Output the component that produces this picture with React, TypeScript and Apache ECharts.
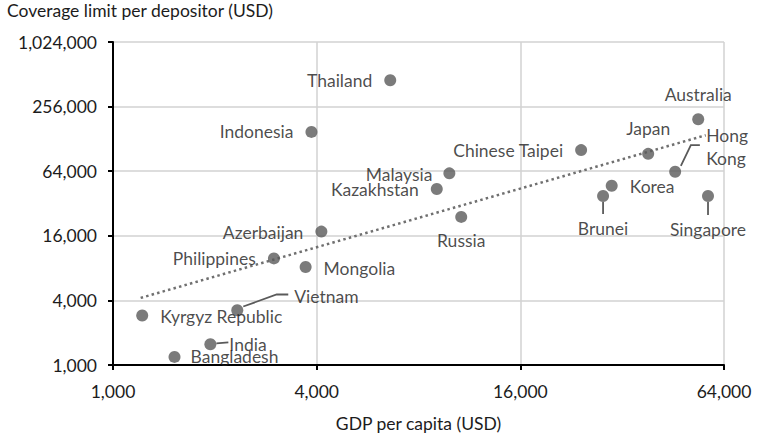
import React, { useEffect, useRef } from "react";
import * as echarts from "echarts";

const countries = [
  "Thailand", "Indonesia", "Malaysia", "Kazakhstan", "Russia", "Chinese Taipei",
  "Japan", "Australia", "Hong Kong", "Korea", "Brunei", "Singapore",
  "Azerbaijan", "Philippines", "Mongolia", "Vietnam", "Kyrgyz Republic", "India", "Bangladesh",
];
const gdpPerCapita = [
  6600, 3860, 9870, 9060, 10700, 24200,
  38200, 53700, 45900, 29800, 28100, 57400,
  4130, 2990, 3710, 2330, 1220, 1940, 1520,
];
const coverageLimit = [
  451000, 148700, 61100, 43700, 24000, 100600,
  92900, 195000, 63200, 46900, 37600, 37600,
  17500, 9850, 8190, 3240, 2890, 1560, 1190,
];
const trendX = [1207, 56500];
const trendY = [4220, 138500];
const xTickLabels = ["1,000", "4,000", "16,000", "64,000"];
const yTickLabels = ["1,000", "4,000", "16,000", "64,000", "256,000", "1,024,000"];

const UNIT = 1000;
const FONT = "Lato";
const TEXT = "#1c1c1c";
const FS = 17.5;

// label placement: [position, distance, offsetX, offsetY]
const labelPlace: Record<string, [string, number, number, number]> = {
  Thailand: ["left", 12, 0, 0],
  Indonesia: ["left", 12, 0, 0],
  Malaysia: ["left", 11, 0, 1],
  Kazakhstan: ["left", 12, 0, 1],
  Russia: ["bottom", 10, 0, 0],
  "Chinese Taipei": ["left", 12, 0, 0],
  Japan: ["top", 11, 0, 0],
  Australia: ["top", 11, 0, 0],
  "Hong Kong": ["right", 25, 0, -25],
  Korea: ["right", 12, 0, 1],
  Brunei: ["bottom", 19, 0, 0],
  Singapore: ["bottom", 20, 0, 0],
  Azerbaijan: ["left", 12, 0, 1],
  Philippines: ["left", 12, 0, 0],
  Mongolia: ["right", 12, 0, 1],
  Vietnam: ["right", 51, 0, -14],
  "Kyrgyz Republic": ["right", 12, 0, 1],
  India: ["right", 13, 0, 0],
  Bangladesh: ["right", 10, 0, 0],
};

const leaders: Record<string, number[][]> = {
  "Hong Kong": [[5.7, -6], [15.7, -26.7], [24.7, -26.7]],
  Vietnam: [[6, -3.7], [39.4, -15.7], [51, -15.7]],
  India: [[6, -1], [18, -2]],
  Brunei: [[0, 6], [0, 18]],
  Singapore: [[0, 6], [0, 19]],
};

const log4 = (v: number) => Math.round(Math.log(v) / Math.log(4));

export default function App() {
  const ref = useRef<HTMLDivElement>(null);
  useEffect(() => {
    if (!ref.current) return;
    const chart = echarts.init(ref.current, null, { renderer: "svg" });
    const data = countries.map((name, i) => {
      const p = labelPlace[name];
      return {
        name,
        value: [gdpPerCapita[i] / UNIT, coverageLimit[i] / UNIT],
        label: {
          position: p[0],
          distance: p[1],
          offset: [p[2], p[3]],
          formatter: name === "Hong Kong" ? "Hong\nKong" : "{b}",
          lineHeight: name === "Hong Kong" ? 23 : 16,
        },
      };
    });
    chart.setOption({
      animation: false,
      backgroundColor: "#fff",
      title: {
        text: "Coverage limit per depositor (USD)",
        left: 7,
        top: 1,
        padding: 0,
        textStyle: { fontFamily: FONT, fontSize: FS, fontWeight: "normal", color: TEXT },
      },
      grid: { left: 113, right: 34, top: 42, bottom: 70, containLabel: false },
      xAxis: {
        type: "log",
        logBase: 4,
        min: 1,
        max: 64,
        splitNumber: 3,
        name: "GDP per capita (USD)",
        nameLocation: "middle",
        nameGap: 49,
        nameTextStyle: { fontFamily: FONT, fontSize: FS, color: TEXT },
        axisLine: { lineStyle: { color: "#000", width: 2 } },
        axisTick: { show: true, length: 5, lineStyle: { color: "#000", width: 2 } },
        axisLabel: {
          fontFamily: FONT, fontSize: FS, color: TEXT, margin: 17,
          formatter: (v: number) => xTickLabels[log4(v)],
        },
        splitLine: { show: true, lineStyle: { color: "#d2d2d2", width: 1.5 } },
      },
      yAxis: {
        type: "log",
        logBase: 4,
        min: 1,
        max: 1024,
        splitNumber: 5,
        axisLine: { show: true, lineStyle: { color: "#000", width: 2 } },
        axisTick: { show: true, length: 5, lineStyle: { color: "#000", width: 2 } },
        axisLabel: {
          fontFamily: FONT, fontSize: FS, color: TEXT, margin: 16,
          formatter: (v: number) => yTickLabels[log4(v)],
        },
        splitLine: { show: true, lineStyle: { color: "#d2d2d2", width: 1.5 } },
      },
      series: [
        {
          type: "line",
          data: trendX.map((x, i) => [x / UNIT, trendY[i] / UNIT]),
          symbol: "none",
          lineStyle: { color: "#707070", width: 2.5, type: [2.5, 3.2] },
          z: 2,
          silent: true,
        },
        {
          type: "scatter",
          data,
          symbolSize: 12,
          itemStyle: { color: "#5a5a5a" },
          label: { show: true, fontFamily: FONT, fontSize: FS, color: TEXT },
          z: 3,
        },
      ],
    });
    const graphics: any[] = [];
    countries.forEach((name, i) => {
      const l = leaders[name];
      if (!l) return;
      const c = chart.convertToPixel({ xAxisIndex: 0, yAxisIndex: 0 }, [
        gdpPerCapita[i] / UNIT,
        coverageLimit[i] / UNIT,
      ]) as number[];
      graphics.push({
        type: "polyline",
        shape: { points: l.map((o) => [c[0] + o[0], c[1] + o[1]]) },
        style: { stroke: "#5a5a5a", lineWidth: 1.8, fill: null },
        z: 1,
      });
    });
    chart.setOption({ graphic: graphics });
    return () => chart.dispose();
  }, []);
  return (
    <div
      ref={ref}
      style={{ position: "fixed", left: 0, top: 0, width: 758, height: 437, background: "#fff" }}
    />
  );
}
